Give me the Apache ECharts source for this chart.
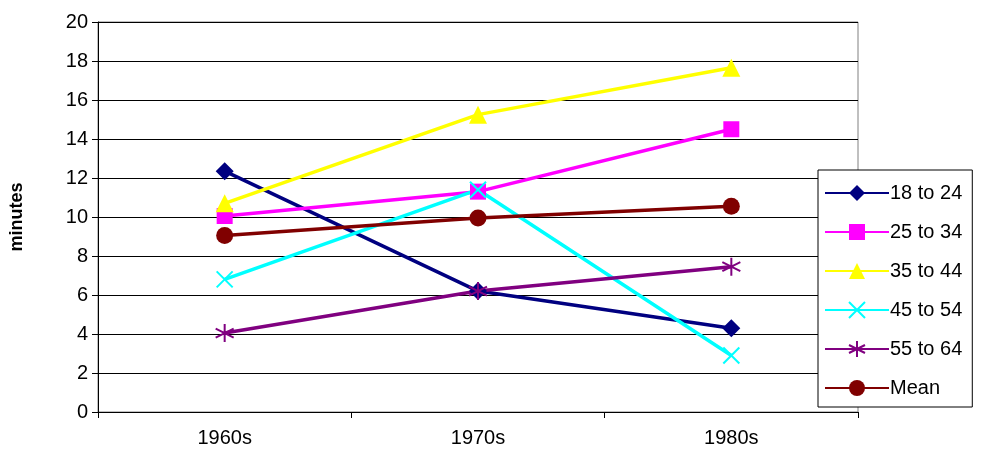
<!DOCTYPE html>
<html><head><meta charset="utf-8">
<script src="https://cdn.jsdelivr.net/npm/echarts@6/dist/echarts.min.js"></script>
<style>html,body{margin:0;padding:0;background:#fff}#c{width:984px;height:462px}</style>
</head><body><div id="c"></div>
<script>
const categories = ['1960s','1970s','1980s'];
const s18to24 = [12.35, 6.2, 4.3];
const s25to34 = [10.05, 11.3, 14.5];
const s35to44 = [10.7, 15.25, 17.65];
const s45to54 = [6.8, 11.4, 2.9];
const s55to64 = [4.05, 6.2, 7.45];
const sMean = [9.05, 9.95, 10.55];
const yTicks = {min:0, max:20, interval:2};

const X = 'path://M0,0L10,10M10,0L0,10';
const STAR = 'path://M5,0L5,10M0,2.5L10,7.5M10,2.5L0,7.5';
function mk(name, data, color, symbol, size, stroke){
  return {name, type:'line', data, symbol, symbolSize:size,
    lineStyle:{color, width:3.5}, itemStyle:{color: stroke? 'rgba(0,0,0,0)':color, borderColor:color, borderWidth: stroke?2:0},
    emphasis:{disabled:true}, z: 2};
}
const chart = echarts.init(document.getElementById('c'));
chart.setOption({
  animation:false,
  textStyle:{fontFamily:'Liberation Sans, Arial'},
  grid:{left:98,right:126,top:22,bottom:50,show:true,borderColor:'#808080',borderWidth:1},
  xAxis:{type:'category',data:categories,boundaryGap:true,
    axisLine:{lineStyle:{color:'#000'}},axisTick:{show:true,length:6,lineStyle:{color:'#000'}},
    axisLabel:{color:'#000',fontSize:20,margin:16}},
  yAxis:{type:'value',min:yTicks.min,max:yTicks.max,interval:yTicks.interval,
    name:'minutes',nameLocation:'middle',nameGap:72,nameTextStyle:{color:'#000',fontSize:18,fontWeight:'bold'},
    axisLine:{show:true,lineStyle:{color:'#000'}},axisTick:{show:true,length:6,lineStyle:{color:'#000'}},
    axisLabel:{color:'#000',fontSize:20,margin:10},splitLine:{lineStyle:{color:'#000'}}},
  legend:{orient:'vertical',left:818,top:170,width:170,backgroundColor:'#fff',borderColor:'#000',borderWidth:1,
    padding:[13,10,9,6],itemGap:19,itemWidth:64,itemHeight:20,
    textStyle:{fontSize:20,color:'#000',padding:[0,0,0,-4]}},
  series:[
    mk('18 to 24', s18to24, '#000080','diamond',18),
    mk('25 to 34', s25to34, '#FF00FF','rect',16),
    mk('35 to 44', s35to44, '#FFFF00','triangle',18),
    mk('45 to 54', s45to54, '#00FFFF',X,16,true),
    mk('55 to 64', s55to64, '#800080',STAR,18,true),
    mk('Mean', sMean, '#800000','circle',17)
  ]
});
</script></body></html>
